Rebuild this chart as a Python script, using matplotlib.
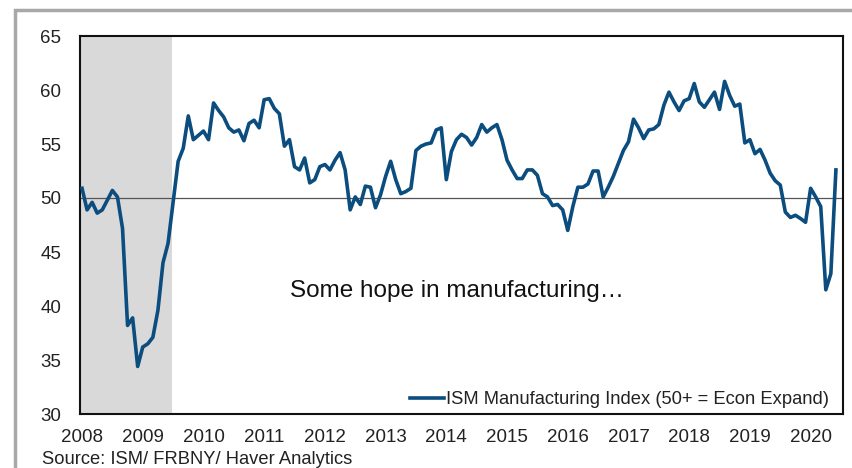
import numpy as np
import matplotlib.pyplot as plt
from matplotlib.patches import Rectangle

# ISM Manufacturing Index, monthly, Jan 2008 - Jun 2020
ism = [
    50.9, 48.9, 49.6, 48.6, 48.9, 49.8, 50.7, 50.1, 47.2, 38.2, 38.9, 34.4,
    36.2, 36.5, 37.1, 39.6, 44.0, 45.8, 49.6, 53.4, 54.6, 57.6, 55.4, 55.8,
    56.2, 55.4, 58.8, 58.1, 57.5, 56.5, 56.1, 56.3, 55.3, 56.9, 57.2, 56.5,
    59.1, 59.2, 58.3, 57.8, 54.8, 55.4, 52.9, 52.6, 53.7, 51.4, 51.7, 52.9,
    53.1, 52.6, 53.5, 54.2, 52.6, 48.9, 50.1, 49.4, 51.1, 51.0, 49.1, 50.3,
    52.0, 53.4, 51.7, 50.4, 50.6, 50.9, 54.4, 54.8, 55.0, 55.1, 56.3, 56.5,
    51.7, 54.3, 55.4, 55.9, 55.6, 54.9, 55.6, 56.8, 56.1, 56.5, 56.8, 55.4,
    53.5, 52.6, 51.8, 51.8, 52.6, 52.6, 52.1, 50.4, 50.1, 49.3, 49.4, 48.9,
    47.0, 49.2, 51.0, 51.0, 51.3, 52.5, 52.5, 50.1, 51.0, 52.0, 53.2, 54.4,
    55.2, 57.3, 56.5, 55.5, 56.3, 56.4, 56.8, 58.6, 59.8, 58.9, 58.1, 59.0,
    59.2, 60.6, 58.9, 58.4, 59.1, 59.8, 58.2, 60.8, 59.5, 58.5, 58.7, 55.1,
    55.4, 54.1, 54.5, 53.5, 52.3, 51.6, 51.2, 48.7, 48.2, 48.4, 48.1, 47.75,
    50.9, 50.1, 49.2, 41.5, 43.0, 52.6,
]
years = [str(y) for y in range(2008, 2021)]
recession_end = 17.7  # months after Jan 2008 (Jun 2009)

months = np.arange(len(ism))

fig = plt.figure(figsize=(8.53, 4.68), dpi=100)
plt.rcParams['font.family'] = ['Liberation Sans', 'DejaVu Sans']

# grey outer frame
fig.patches.append(Rectangle((15.5 / 853, -0.2), 1.2, (468 - 9.5) / 468 + 0.2,
                             transform=fig.transFigure, fill=False,
                             edgecolor='#a8a8a8', lw=2.5, clip_on=False))

ax = fig.add_axes([80 / 853, 1 - 414 / 468, (843 - 80) / 853, (414 - 36) / 468])

ax.axvspan(-1, recession_end, color='#d9d9d9', lw=0, zorder=0)
ax.axhline(50, color='#555555', lw=0.9, zorder=1)
ax.plot(months, ism, color='#0b4d7e', lw=2.6, zorder=3,
        label='ISM Manufacturing Index (50+ = Econ Expand)')

ax.set_xlim(-0.4, 150.4)
ax.set_ylim(30, 65)
ax.set_yticks(range(30, 66, 5))
ax.set_xticks(range(0, 12 * len(years), 12))
ax.set_xticklabels(years)
ax.tick_params(axis='y', length=0, pad=13.5, labelsize=13.5, labelcolor='#222222')
ax.tick_params(axis='x', length=0, pad=10.5, labelsize=13.5, labelcolor='#222222')
for s in ax.spines.values():
    s.set_color('#111111')
    s.set_linewidth(1.5)

ax.text(0.4935, 0.325, 'Some hope in manufacturing\u2026', transform=ax.transAxes,
        ha='center', va='center', fontsize=17.5, color='#111111')

ax.legend(loc='lower right', bbox_to_anchor=(0.982, 0.015), frameon=False,
          fontsize=13.2, handlelength=1.85, handletextpad=0.12, borderpad=0,
          borderaxespad=0, labelcolor='#222222')

fig.text(42 / 853, 1 - 459 / 468, 'Source: ISM/ FRBNY/ Haver Analytics',
         ha='left', va='center', fontsize=13.2, color='#222222')

fig.savefig('out.png', dpi=100)
